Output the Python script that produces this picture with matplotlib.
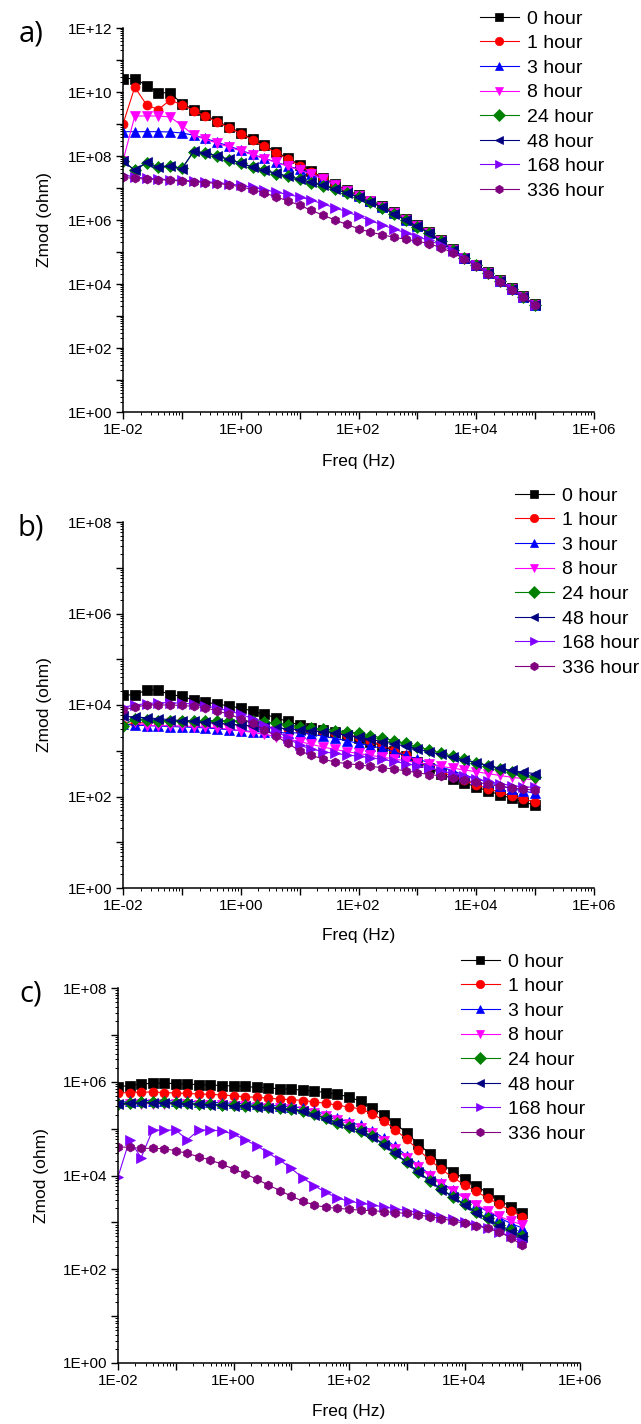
import numpy as np
import matplotlib
matplotlib.use('Agg')
import matplotlib.pyplot as plt
from matplotlib.ticker import FuncFormatter, LogLocator, NullFormatter

plt.rcParams['font.family'] = ['Liberation Sans', 'DejaVu Sans']

# legend / styles
labels = ['0 hour', '1 hour', '3 hour', '8 hour', '24 hour', '48 hour', '168 hour', '336 hour']
colors = ['#000000', '#FF0000', '#0000FF', '#FF00FF', '#008000', '#000080', '#8000FF', '#800080']
markers = ['s', 'o', '^', 'v', 'D', '<', '>', 'h']

# log10 of frequency (Hz)
log_freq = [-2.0, -1.8, -1.6, -1.4, -1.2, -1.0, -0.8, -0.6, -0.4, -0.2,
            0.0, 0.2, 0.4, 0.6, 0.8, 1.0, 1.2, 1.4, 1.6, 1.8,
            2.0, 2.2, 2.4, 2.6, 2.8, 3.0, 3.2, 3.4, 3.6, 3.8,
            4.0, 4.2, 4.4, 4.6, 4.8, 5.0]

# log10 of Zmod (ohm), panel a
a_0h = [10.42, 10.42, 10.2, 9.98, 9.97, 9.64, 9.45, 9.27, 9.09, 8.91, 8.73, 8.53, 8.33, 8.13, 7.93, 7.73, 7.52, 7.32,
        7.12, 6.94, 6.77, 6.6, 6.43, 6.24, 6.04, 5.84, 5.63, 5.37, 5.08, 4.82, 4.59, 4.36, 4.11, 3.86, 3.61, 3.36]
a_1h = [9.0, 10.15, 9.6, 9.45, 9.75, 9.6, 9.42, 9.24, 9.06, 8.88, 8.7, 8.5, 8.3, 8.1, 7.9, 7.7, 7.5, 7.3,
        7.1, 6.92, 6.76, 6.6, 6.42, 6.22, 6.02, 5.82, 5.62, 5.36, 5.07, 4.81, 4.58, 4.35, 4.1, 3.85, 3.6, 3.35]
a_3h = [8.76, 8.76, 8.76, 8.76, 8.75, 8.72, 8.65, 8.55, 8.43, 8.31, 8.18, 8.05, 7.93, 7.81, 7.69, 7.58, 7.45, 7.28,
        7.08, 6.9, 6.74, 6.58, 6.41, 6.21, 6.01, 5.81, 5.6, 5.34, 5.06, 4.8, 4.58, 4.35, 4.1, 3.85, 3.6, 3.35]
a_8h = [7.85, 9.25, 9.25, 9.25, 9.22, 8.95, 8.65, 8.52, 8.4, 8.28, 8.16, 8.04, 7.92, 7.8, 7.68, 7.56, 7.43, 7.28,
        7.09, 6.9, 6.74, 6.58, 6.41, 6.21, 6.01, 5.81, 5.6, 5.34, 5.06, 4.8, 4.58, 4.35, 4.1, 3.85, 3.6, 3.35]
a_24h = [7.84, 7.56, 7.79, 7.66, 7.69, 7.61, 8.13, 8.09, 7.99, 7.89, 7.77, 7.65, 7.55, 7.45, 7.36, 7.27, 7.17, 7.07,
         6.96, 6.84, 6.71, 6.56, 6.39, 6.19, 5.99, 5.79, 5.59, 5.33, 5.05, 4.8, 4.58, 4.35, 4.1, 3.85, 3.6, 3.35]
a_48h = [7.85, 7.55, 7.8, 7.65, 7.7, 7.6, 8.15, 8.1, 8.0, 7.9, 7.78, 7.66, 7.56, 7.46, 7.37, 7.28, 7.18, 7.08,
         6.97, 6.85, 6.72, 6.57, 6.4, 6.2, 6.0, 5.8, 5.6, 5.33, 5.05, 4.8, 4.58, 4.35, 4.1, 3.85, 3.6, 3.35]
a_168h = [7.4, 7.35, 7.3, 7.28, 7.26, 7.24, 7.22, 7.2, 7.17, 7.13, 7.08, 7.02, 6.95, 6.87, 6.8, 6.72, 6.62, 6.5,
          6.38, 6.26, 6.12, 5.98, 5.85, 5.72, 5.6, 5.48, 5.36, 5.22, 5.03, 4.8, 4.58, 4.35, 4.1, 3.85, 3.6, 3.35]
a_336h = [7.33, 7.3, 7.28, 7.26, 7.24, 7.22, 7.2, 7.17, 7.14, 7.1, 7.04, 6.95, 6.85, 6.72, 6.6, 6.46, 6.3, 6.15,
          6.0, 5.86, 5.73, 5.62, 5.54, 5.46, 5.4, 5.34, 5.26, 5.14, 4.98, 4.78, 4.55, 4.32, 4.06, 3.82, 3.58, 3.35]

# panel b
b_0h = [4.22, 4.22, 4.33, 4.33, 4.22, 4.2, 4.1, 4.06, 4.02, 3.98, 3.93, 3.87, 3.8, 3.72, 3.64, 3.56, 3.5, 3.45,
        3.4, 3.35, 3.28, 3.2, 3.1, 3.0, 2.88, 2.76, 2.63, 2.5, 2.39, 2.3, 2.21, 2.12, 2.04, 1.96, 1.88, 1.81]
b_1h = [3.56, 3.6, 3.62, 3.63, 3.64, 3.64, 3.63, 3.62, 3.6, 3.58, 3.56, 3.54, 3.52, 3.5, 3.48, 3.46, 3.44, 3.42,
        3.39, 3.35, 3.3, 3.22, 3.12, 3.02, 2.9, 2.78, 2.66, 2.54, 2.44, 2.35, 2.26, 2.17, 2.09, 2.01, 1.94, 1.88]
b_3h = [3.58, 3.56, 3.55, 3.54, 3.53, 3.52, 3.51, 3.5, 3.48, 3.46, 3.44, 3.42, 3.41, 3.4, 3.39, 3.39, 3.36, 3.32,
        3.27, 3.22, 3.16, 3.11, 3.05, 2.98, 2.9, 2.82, 2.74, 2.65, 2.56, 2.47, 2.39, 2.31, 2.24, 2.17, 2.12, 2.07]
b_8h = [3.74, 3.62, 3.55, 3.55, 3.55, 3.54, 3.53, 3.52, 3.5, 3.47, 3.44, 3.4, 3.36, 3.31, 3.26, 3.2, 3.14, 3.08,
        3.03, 2.98, 2.94, 2.9, 2.86, 2.82, 2.78, 2.74, 2.7, 2.66, 2.62, 2.58, 2.54, 2.5, 2.46, 2.42, 2.39, 2.36]
b_24h = [3.55, 3.7, 3.68, 3.66, 3.66, 3.66, 3.66, 3.66, 3.66, 3.66, 3.65, 3.64, 3.62, 3.6, 3.56, 3.52, 3.5, 3.47,
         3.44, 3.41, 3.38, 3.33, 3.28, 3.22, 3.16, 3.09, 3.02, 2.95, 2.88, 2.81, 2.74, 2.67, 2.6, 2.54, 2.48, 2.42]
b_48h = [3.75, 3.74, 3.72, 3.7, 3.68, 3.66, 3.64, 3.62, 3.6, 3.58, 3.56, 3.54, 3.52, 3.5, 3.48, 3.46, 3.44, 3.41,
         3.38, 3.34, 3.3, 3.25, 3.2, 3.15, 3.1, 3.04, 2.98, 2.92, 2.86, 2.8, 2.74, 2.68, 2.62, 2.57, 2.53, 2.5]
b_168h = [3.95, 4.0, 4.03, 4.05, 4.05, 4.04, 4.02, 3.98, 3.93, 3.87, 3.8, 3.7, 3.57, 3.43, 3.28, 3.12, 3.04, 2.98,
          2.94, 2.91, 2.88, 2.85, 2.81, 2.77, 2.72, 2.67, 2.62, 2.56, 2.5, 2.44, 2.38, 2.33, 2.28, 2.24, 2.21, 2.2]
b_336h = [3.89, 3.95, 4.0, 4.0, 4.0, 3.99, 3.97, 3.94, 3.87, 3.8, 3.7, 3.6, 3.46, 3.32, 3.16, 3.0, 2.9, 2.82,
          2.75, 2.72, 2.69, 2.66, 2.63, 2.6, 2.56, 2.52, 2.48, 2.45, 2.41, 2.36, 2.31, 2.27, 2.22, 2.19, 2.16, 2.14]

# panel c
c_0h = [5.89, 5.92, 5.95, 5.97, 5.97, 5.96, 5.95, 5.94, 5.93, 5.92, 5.91, 5.9, 5.88, 5.87, 5.85, 5.84, 5.82, 5.8,
        5.77, 5.73, 5.68, 5.58, 5.45, 5.3, 5.12, 4.9, 4.68, 4.46, 4.25, 4.08, 3.93, 3.78, 3.63, 3.48, 3.33, 3.2]
c_1h = [5.76, 5.77, 5.78, 5.78, 5.77, 5.76, 5.75, 5.74, 5.73, 5.72, 5.7, 5.68, 5.67, 5.65, 5.63, 5.62, 5.6, 5.57,
        5.54, 5.5, 5.46, 5.42, 5.32, 5.17, 4.98, 4.77, 4.55, 4.33, 4.13, 3.96, 3.8, 3.66, 3.52, 3.39, 3.25, 3.12]
c_3h = [5.56, 5.58, 5.6, 5.6, 5.6, 5.59, 5.58, 5.57, 5.56, 5.55, 5.54, 5.53, 5.52, 5.5, 5.48, 5.47, 5.44, 5.38,
        5.3, 5.22, 5.14, 5.07, 4.96, 4.8, 4.62, 4.42, 4.22, 4.02, 3.84, 3.69, 3.52, 3.37, 3.23, 3.1, 2.98, 2.88]
c_8h = [5.5, 5.52, 5.53, 5.53, 5.53, 5.52, 5.52, 5.51, 5.5, 5.5, 5.49, 5.48, 5.47, 5.45, 5.43, 5.41, 5.38, 5.33,
        5.26, 5.18, 5.1, 5.02, 4.9, 4.74, 4.56, 4.37, 4.18, 3.99, 3.82, 3.67, 3.52, 3.38, 3.25, 3.13, 3.03, 2.95]
c_24h = [5.53, 5.55, 5.56, 5.56, 5.56, 5.55, 5.54, 5.53, 5.52, 5.51, 5.5, 5.49, 5.48, 5.46, 5.44, 5.42, 5.38, 5.31,
         5.22, 5.13, 5.04, 4.96, 4.84, 4.67, 4.48, 4.28, 4.08, 3.89, 3.71, 3.55, 3.39, 3.23, 3.09, 2.95, 2.83, 2.72]
c_48h = [5.52, 5.54, 5.55, 5.55, 5.55, 5.54, 5.53, 5.52, 5.51, 5.5, 5.49, 5.48, 5.47, 5.45, 5.43, 5.41, 5.37, 5.3,
         5.21, 5.12, 5.03, 4.95, 4.83, 4.66, 4.47, 4.27, 4.07, 3.88, 3.7, 3.54, 3.37, 3.21, 3.07, 2.93, 2.8, 2.69]
c_168h = [3.97, 4.76, 4.38, 4.97, 4.97, 4.97, 4.76, 4.97, 4.97, 4.95, 4.88, 4.76, 4.64, 4.48, 4.33, 4.15, 3.95, 3.78,
          3.64, 3.52, 3.45, 3.41, 3.37, 3.33, 3.29, 3.25, 3.21, 3.17, 3.12, 3.07, 3.01, 2.95, 2.88, 2.8, 2.7, 2.58]
c_336h = [4.61, 4.6, 4.58, 4.58, 4.57, 4.53, 4.47, 4.4, 4.33, 4.24, 4.14, 4.04, 3.92, 3.8, 3.68, 3.56, 3.45, 3.37,
          3.32, 3.3, 3.28, 3.26, 3.25, 3.23, 3.21, 3.19, 3.16, 3.12, 3.08, 3.03, 2.98, 2.93, 2.87, 2.8, 2.67, 2.52]

panel_a = [a_0h, a_1h, a_3h, a_8h, a_24h, a_48h, a_168h, a_336h]
panel_b = [b_0h, b_1h, b_3h, b_8h, b_24h, b_48h, b_168h, b_336h]
panel_c = [c_0h, c_1h, c_3h, c_8h, c_24h, c_48h, c_168h, c_336h]

W, H = 641, 1424
fig = plt.figure(figsize=(W / 100, H / 100), dpi=100)


def px_axes(left, top, right, bottom):
    return fig.add_axes([left / W, 1 - bottom / H, (right - left) / W, (bottom - top) / H])


def exp_label(v, pos):
    e = int(round(np.log10(v)))
    if e % 2:
        return ''
    return '1E' + format(e, '+03d')


def draw_panel(ax, series, ymax, letter, leg_xy):
    freq = 10 ** np.array(log_freq)
    for vals, lab, c, m in zip(series, labels, colors, markers):
        ax.plot(freq, 10 ** np.array(vals), color=c, marker=m, markersize=6.5,
                markeredgewidth=0.5, linewidth=0.8, label=lab)
    ax.set_xscale('log')
    ax.set_yscale('log')
    ax.set_xlim(1e-2, 1e6)
    ax.set_ylim(1, ymax)
    for sp in ['top', 'right']:
        ax.spines[sp].set_visible(False)
    for sp in ['left', 'bottom']:
        ax.spines[sp].set_linewidth(1.1)
    for axis in [ax.xaxis, ax.yaxis]:
        axis.set_major_locator(LogLocator(base=10, numticks=30))
        axis.set_minor_locator(LogLocator(base=10, subs=np.arange(2, 10), numticks=30))
        axis.set_major_formatter(FuncFormatter(exp_label))
        axis.set_minor_formatter(NullFormatter())
    ax.tick_params(which='major', direction='out', length=5, width=1, labelsize=11, pad=3)
    ax.tick_params(which='minor', direction='out', length=2.5, width=0.7)
    ax.set_xlabel('Freq (Hz)', fontsize=12.5)
    ax.set_ylabel('Zmod (ohm)', fontsize=12.5)
    ax.xaxis.set_label_coords(0.5, -0.11)
    ax.yaxis.set_label_coords(-0.15, 0.5)
    leg = ax.legend(loc='upper left', bbox_to_anchor=(leg_xy[0] / W, 1 - leg_xy[1] / H),
                    bbox_transform=fig.transFigure, frameon=False, fontsize=14,
                    handlelength=2.0, handletextpad=0.4, labelspacing=0.36,
                    borderpad=0, borderaxespad=0)
    for h in leg.get_lines():
        h.set_markersize(6)
    bb = ax.get_position()
    fig.text(31 / W, bb.y1 - 6 / H, letter, fontsize=21, family=['Open Sans', 'DejaVu Sans'],
             ha='center', va='center')


ax_a = px_axes(123, 28, 594, 412)
draw_panel(ax_a, panel_a, 1e12, 'a)', (480, 10))
ax_b = px_axes(123, 522, 594, 888)
draw_panel(ax_b, panel_b, 1e8, 'b)', (515, 487))
ax_c = px_axes(118, 988, 580, 1363)
draw_panel(ax_c, panel_c, 1e8, 'c)', (461, 953))

fig.savefig('out.png', dpi=100)
